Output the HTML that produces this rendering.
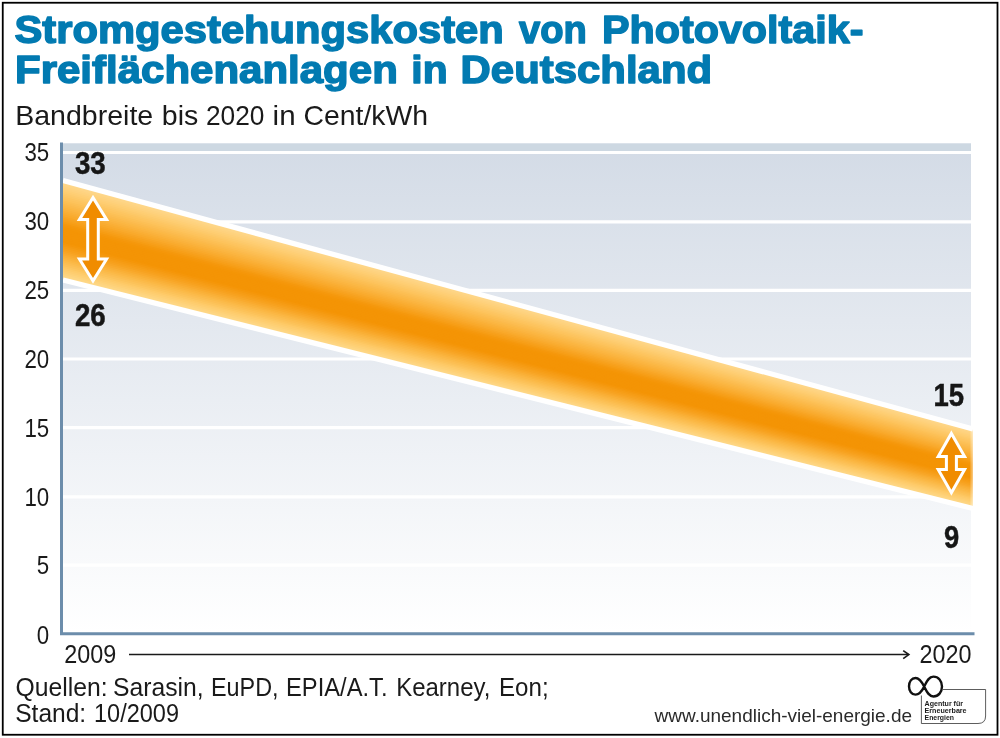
<!DOCTYPE html>
<html lang="de">
<head>
<meta charset="utf-8">
<title>Stromgestehungskosten von Photovoltaik-Freiflächenanlagen in Deutschland</title>
<style>
  html, body { margin: 0; padding: 0; background: #ffffff; }
  body { width: 1000px; height: 738px; overflow: hidden; font-family: "Liberation Sans", sans-serif; }
  svg { display: block; will-change: transform; }
  text { font-family: "Liberation Sans", sans-serif; }
  .title { font-weight: bold; font-size: 39.6px; fill: #027ab1; stroke: #027ab1; stroke-width: 1.5px; stroke-linejoin: round; }
  .sub { font-size: 27.5px; fill: #1a1a1a; }
  .ax { font-size: 25px; fill: #1a1a1a; }
  .val { font-size: 30.5px; font-weight: bold; fill: #161616; stroke: #161616; stroke-width: 0.5px; }
  .src { font-size: 25.5px; fill: #1a1a1a; }
  .url { font-size: 19px; fill: #2a2a2a; }
  .logo { font-size: 7px; font-weight: bold; fill: #1a1a1a; }
</style>
</head>
<body>
<svg width="1000" height="738" viewBox="0 0 1000 738">
  <defs>
    <linearGradient id="bg" x1="0" y1="143" x2="0" y2="633" gradientUnits="userSpaceOnUse">
      <stop offset="0" stop-color="#d3dbe6"/>
      <stop offset="1" stop-color="#ffffff"/>
    </linearGradient>
    <!-- light edge fading from upper band line (perpendicular to it) -->
    <linearGradient id="gTop" x1="500" y1="299.6" x2="489.2" y2="339.5" gradientUnits="userSpaceOnUse">
      <stop offset="0" stop-color="#fdd18c" stop-opacity="1"/>
      <stop offset="1" stop-color="#fdd18c" stop-opacity="0"/>
    </linearGradient>
    <linearGradient id="gBot" x1="500" y1="390.4" x2="510" y2="350.4" gradientUnits="userSpaceOnUse">
      <stop offset="0" stop-color="#fdd998" stop-opacity="1"/>
      <stop offset="1" stop-color="#fdd998" stop-opacity="0"/>
    </linearGradient>
    <linearGradient id="endFade" x1="969.5" y1="0" x2="973.2" y2="0" gradientUnits="userSpaceOnUse">
      <stop offset="0" stop-color="#ffffff" stop-opacity="0"/>
      <stop offset="1" stop-color="#ffffff" stop-opacity="0.55"/>
    </linearGradient>
    <clipPath id="bandClip">
      <polygon points="63,180.6 973,429 973,508.5 63,280.1"/>
    </clipPath>
  </defs>

  <!-- page -->
  <rect x="0" y="0" width="1000" height="738" fill="#ffffff"/>
  <rect x="2.75" y="2.75" width="994.75" height="732" fill="none" stroke="#000000" stroke-width="1.8"/>

  <!-- title -->
  <text class="title" x="14.5" y="43.2" textLength="489.3" lengthAdjust="spacingAndGlyphs">Stromgestehungskosten</text>
  <text class="title" x="518.9" y="43.2" textLength="67.9" lengthAdjust="spacingAndGlyphs">von</text>
  <text class="title" x="601.9" y="43.2" textLength="261.6" lengthAdjust="spacingAndGlyphs">Photovoltaik-</text>
  <text class="title" x="15" y="83" textLength="382.8" lengthAdjust="spacingAndGlyphs">Freiflächenanlagen</text>
  <text class="title" x="411.3" y="83" textLength="36.3" lengthAdjust="spacingAndGlyphs">in</text>
  <text class="title" x="460.6" y="83" textLength="251.5" lengthAdjust="spacingAndGlyphs">Deutschland</text>

  <!-- subtitle -->
  <text class="sub" x="15.2" y="124.6" textLength="138" lengthAdjust="spacingAndGlyphs">Bandbreite</text>
  <text class="sub" x="161.8" y="124.6" textLength="36.5" lengthAdjust="spacingAndGlyphs">bis</text>
  <text class="sub" x="206" y="124.6" textLength="58.5" lengthAdjust="spacingAndGlyphs">2020</text>
  <text class="sub" x="272.6" y="124.6" textLength="23" lengthAdjust="spacingAndGlyphs">in</text>
  <text class="sub" x="303.6" y="124.6" textLength="124.5" lengthAdjust="spacingAndGlyphs">Cent/kWh</text>

  <!-- chart background -->
  <rect x="63" y="143.5" width="908" height="490" fill="url(#bg)"/>
  <rect x="63" y="143.5" width="908" height="8" fill="#cdd8e2"/>

  <!-- grid lines -->
  <g stroke="#ffffff" stroke-width="3.2">
    <line x1="63" y1="152.5" x2="971" y2="152.5"/>
    <line x1="63" y1="221.9" x2="971" y2="221.9"/>
    <line x1="63" y1="290.4" x2="971" y2="290.4"/>
    <line x1="63" y1="359.0" x2="971" y2="359.0"/>
    <line x1="63" y1="427.7" x2="971" y2="427.7"/>
    <line x1="63" y1="496.8" x2="971" y2="496.8"/>
    <line x1="63" y1="565.2" x2="971" y2="565.2"/>
  </g>

  <!-- band -->
  <!-- BAND START -->
  <g shape-rendering="geometricPrecision">
    <polygon fill="#fed990" points="63,180.60 973,429.00 973,508.50 63,280.10"/>
    <polygon fill="#fed78a" points="63,182.38 973,430.42 973,508.50 63,280.10"/>
    <polygon fill="#fed586" points="63,184.15 973,431.84 973,508.50 63,280.10"/>
    <polygon fill="#fed380" points="63,185.93 973,433.26 973,508.50 63,280.10"/>
    <polygon fill="#fed17c" points="63,187.71 973,434.68 973,508.50 63,280.10"/>
    <polygon fill="#fecf76" points="63,189.48 973,436.10 973,508.50 63,280.10"/>
    <polygon fill="#fecd71" points="63,191.26 973,437.52 973,508.50 63,280.10"/>
    <polygon fill="#fdca6c" points="63,193.04 973,438.94 973,508.50 63,280.10"/>
    <polygon fill="#fdc866" points="63,194.81 973,440.36 973,508.50 63,280.10"/>
    <polygon fill="#fdc561" points="63,196.59 973,441.78 973,508.50 63,280.10"/>
    <polygon fill="#fdc35c" points="63,198.37 973,443.20 973,508.50 63,280.10"/>
    <polygon fill="#fcc056" points="63,200.14 973,444.62 973,508.50 63,280.10"/>
    <polygon fill="#fcbd51" points="63,201.92 973,446.04 973,508.50 63,280.10"/>
    <polygon fill="#fbba4c" points="63,203.70 973,447.46 973,508.50 63,280.10"/>
    <polygon fill="#fbb846" points="63,205.47 973,448.88 973,508.50 63,280.10"/>
    <polygon fill="#fbb541" points="63,207.25 973,450.29 973,508.50 63,280.10"/>
    <polygon fill="#fab23c" points="63,209.03 973,451.71 973,508.50 63,280.10"/>
    <polygon fill="#faaf36" points="63,210.81 973,453.13 973,508.50 63,280.10"/>
    <polygon fill="#f9ac31" points="63,212.58 973,454.55 973,508.50 63,280.10"/>
    <polygon fill="#f9a92b" points="63,214.36 973,455.97 973,508.50 63,280.10"/>
    <polygon fill="#f8a525" points="63,216.14 973,457.39 973,508.50 63,280.10"/>
    <polygon fill="#f7a21f" points="63,217.91 973,458.81 973,508.50 63,280.10"/>
    <polygon fill="#f79f19" points="63,219.69 973,460.23 973,508.50 63,280.10"/>
    <polygon fill="#f69c13" points="63,221.47 973,461.65 973,508.50 63,280.10"/>
    <polygon fill="#f5980d" points="63,223.24 973,463.07 973,508.50 63,280.10"/>
    <polygon fill="#f59609" points="63,225.02 973,464.49 973,508.50 63,280.10"/>
    <polygon fill="#f49506" points="63,226.80 973,465.91 973,508.50 63,280.10"/>
    <polygon fill="#f49405" points="63,228.57 973,467.33 973,508.50 63,280.10"/>
    <polygon fill="#f49405" points="63,230.35 973,468.75 973,508.50 63,280.10"/>
    <polygon fill="#f49405" points="63,232.13 973,470.17 973,508.50 63,280.10"/>
    <polygon fill="#f49405" points="63,233.90 973,471.59 973,508.50 63,280.10"/>
    <polygon fill="#f49405" points="63,235.68 973,473.01 973,508.50 63,280.10"/>
    <polygon fill="#f49405" points="63,237.46 973,474.43 973,508.50 63,280.10"/>
    <polygon fill="#f49405" points="63,239.23 973,475.85 973,508.50 63,280.10"/>
    <polygon fill="#f49405" points="63,241.01 973,477.27 973,508.50 63,280.10"/>
    <polygon fill="#f59609" points="63,242.79 973,478.69 973,508.50 63,280.10"/>
    <polygon fill="#f5990f" points="63,244.56 973,480.11 973,508.50 63,280.10"/>
    <polygon fill="#f69c15" points="63,246.34 973,481.53 973,508.50 63,280.10"/>
    <polygon fill="#f79f1a" points="63,248.12 973,482.95 973,508.50 63,280.10"/>
    <polygon fill="#f7a220" points="63,249.89 973,484.37 973,508.50 63,280.10"/>
    <polygon fill="#f8a627" points="63,251.67 973,485.79 973,508.50 63,280.10"/>
    <polygon fill="#f9aa2e" points="63,253.45 973,487.21 973,508.50 63,280.10"/>
    <polygon fill="#f9af36" points="63,255.23 973,488.62 973,508.50 63,280.10"/>
    <polygon fill="#fab33d" points="63,257.00 973,490.04 973,508.50 63,280.10"/>
    <polygon fill="#fbb744" points="63,258.78 973,491.46 973,508.50 63,280.10"/>
    <polygon fill="#fbbb4b" points="63,260.56 973,492.88 973,508.50 63,280.10"/>
    <polygon fill="#fcbe52" points="63,262.33 973,494.30 973,508.50 63,280.10"/>
    <polygon fill="#fcc259" points="63,264.11 973,495.72 973,508.50 63,280.10"/>
    <polygon fill="#fdc660" points="63,265.89 973,497.14 973,508.50 63,280.10"/>
    <polygon fill="#feca68" points="63,267.66 973,498.56 973,508.50 63,280.10"/>
    <polygon fill="#fecd6f" points="63,269.44 973,499.98 973,508.50 63,280.10"/>
    <polygon fill="#fed075" points="63,271.22 973,501.40 973,508.50 63,280.10"/>
    <polygon fill="#fed37c" points="63,272.99 973,502.82 973,508.50 63,280.10"/>
    <polygon fill="#fed683" points="63,274.77 973,504.24 973,508.50 63,280.10"/>
    <polygon fill="#fed98a" points="63,276.55 973,505.66 973,508.50 63,280.10"/>
    <polygon fill="#fedc91" points="63,278.32 973,507.08 973,508.50 63,280.10"/>
  </g>
  <!-- BAND END -->
  <rect x="969.5" y="420" width="4" height="95" fill="url(#endFade)" clip-path="url(#bandClip)"/>
  <g stroke="#ffffff" stroke-width="5.2">
    <line x1="63" y1="180.6" x2="973" y2="429"/>
    <line x1="63" y1="280.1" x2="973" y2="508.5"/>
  </g>

  <!-- axes -->
  <polyline points="61.5,142.5 61.5,633.7 974.5,633.7" fill="none" stroke="#6c8dab" stroke-width="3"/>

  <!-- y labels -->
  <g class="ax" text-anchor="end">
    <text x="49.2" y="161" textLength="24.8" lengthAdjust="spacingAndGlyphs">35</text>
    <text x="49.2" y="230.2" textLength="24.8" lengthAdjust="spacingAndGlyphs">30</text>
    <text x="49.2" y="298.8" textLength="24.8" lengthAdjust="spacingAndGlyphs">25</text>
    <text x="49.2" y="368" textLength="24.8" lengthAdjust="spacingAndGlyphs">20</text>
    <text x="49.2" y="437" textLength="24.8" lengthAdjust="spacingAndGlyphs">15</text>
    <text x="49.2" y="505.9" textLength="24.8" lengthAdjust="spacingAndGlyphs">10</text>
    <text x="49.2" y="574.4" textLength="12.4" lengthAdjust="spacingAndGlyphs">5</text>
    <text x="49.2" y="643.7" textLength="12.4" lengthAdjust="spacingAndGlyphs">0</text>
  </g>

  <!-- value labels -->
  <text class="val" x="74.9" y="173.5" textLength="30.8" lengthAdjust="spacingAndGlyphs">33</text>
  <text class="val" x="74.9" y="325.8" textLength="30.8" lengthAdjust="spacingAndGlyphs">26</text>
  <text class="val" x="933.4" y="406.2" textLength="30.6" lengthAdjust="spacingAndGlyphs">15</text>
  <text class="val" x="944" y="547.6" textLength="15.2" lengthAdjust="spacingAndGlyphs">9</text>

  <!-- double arrows -->
  <g fill="#f08c00" stroke="#ffffff" stroke-width="3" stroke-linejoin="miter" stroke-miterlimit="10">
    <path d="M93,197.6 L106.6,219.6 L98.3,219.6 L98.3,259 L106.6,259 L93,280.8 L79.4,259 L87.7,259 L87.7,219.6 L79.4,219.6 Z"/>
    <path d="M951.4,433.4 L964.6,456.6 L956.4,456.6 L956.4,469.6 L964.6,469.6 L951.4,492.8 L938.2,469.6 L946.4,469.6 L946.4,456.6 L938.2,456.6 Z"/>
  </g>

  <!-- x axis -->
  <text class="ax" x="64.3" y="662.8" textLength="52" lengthAdjust="spacingAndGlyphs">2009</text>
  <text class="ax" x="919.6" y="662.8" textLength="52" lengthAdjust="spacingAndGlyphs">2020</text>
  <line x1="129" y1="654.6" x2="908.4" y2="654.6" stroke="#1a1a1a" stroke-width="1.5"/>
  <path d="M903.2,650.6 L908.8,654.6 L903.2,658.6" fill="none" stroke="#1a1a1a" stroke-width="1.7" stroke-linejoin="miter"/>

  <!-- sources -->
  <text class="src" x="15.4" y="695.6" textLength="92.2" lengthAdjust="spacingAndGlyphs">Quellen:</text>
  <text class="src" x="113" y="695.6" textLength="90.6" lengthAdjust="spacingAndGlyphs">Sarasin,</text>
  <text class="src" x="211" y="695.6" textLength="67.6" lengthAdjust="spacingAndGlyphs">EuPD,</text>
  <text class="src" x="286" y="695.6" textLength="101.5" lengthAdjust="spacingAndGlyphs">EPIA/A.T.</text>
  <text class="src" x="396.2" y="695.6" textLength="94.2" lengthAdjust="spacingAndGlyphs">Kearney,</text>
  <text class="src" x="499" y="695.6" textLength="49.6" lengthAdjust="spacingAndGlyphs">Eon;</text>
  <text class="src" x="15.2" y="721.9" textLength="71" lengthAdjust="spacingAndGlyphs">Stand:</text>
  <text class="src" x="94" y="721.9" textLength="85" lengthAdjust="spacingAndGlyphs">10/2009</text>

  <!-- url -->
  <text class="url" x="654.6" y="722.4" textLength="257.4" lengthAdjust="spacingAndGlyphs">www.unendlich-viel-energie.de</text>

  <!-- logo -->
  <g fill="none" stroke="#111111">
    <path d="M943,689.5 L985.6,689.5 L985.6,716 Q985.6,723.5 978,723.5 L921.4,723.5 L921.4,695.5" stroke-width="0.8" stroke="#333333"/>
    <path d="M915.5,694.6 C919,694.6 921.9,691.2 924.2,686.6 C926.5,682 928.5,676.6 933.4,676.6 C938.4,676.6 942,681 942,686.6 C942,692.2 938.4,696.5 933.4,696.5 C928.5,696.5 926.5,691.2 924.2,686.6 C921.9,682 919.5,678 915.5,678 C911.6,678 909,681.6 909,686.3 C909,691 911.6,694.6 915.5,694.6 Z" stroke-width="2.4" stroke-linejoin="round"/>
  </g>
  <text class="logo" x="924.6" y="705.6" textLength="38.4" lengthAdjust="spacingAndGlyphs">Agentur für</text>
  <text class="logo" x="924.6" y="712.8" textLength="42" lengthAdjust="spacingAndGlyphs">Erneuerbare</text>
  <text class="logo" x="924.6" y="720.2" textLength="29.4" lengthAdjust="spacingAndGlyphs">Energien</text>
</svg>
</body>
</html>
